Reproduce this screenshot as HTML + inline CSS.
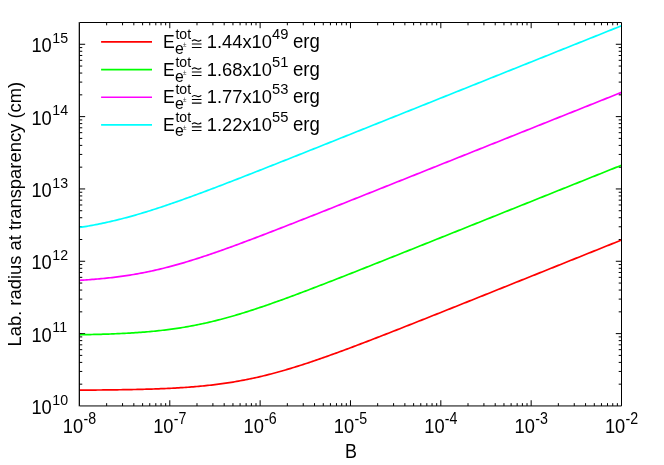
<!DOCTYPE html>
<html><head><meta charset="utf-8"><title>plot</title>
<style>
html,body{margin:0;padding:0;background:#fff;}
svg{display:block;will-change:transform;}
text{font-family:"Liberation Sans", sans-serif;fill:#000;}
</style></head><body>
<svg width="664" height="465" viewBox="0 0 664 465">
<rect width="664" height="465" fill="#fff"/>
<path d="M106.65,405.95 v-2.80 M106.65,22.50 v2.80 M122.55,405.95 v-2.80 M122.55,22.50 v2.80 M133.84,405.95 v-2.80 M133.84,22.50 v2.80 M142.60,405.95 v-2.80 M142.60,22.50 v2.80 M149.75,405.95 v-2.80 M149.75,22.50 v2.80 M155.80,405.95 v-2.80 M155.80,22.50 v2.80 M161.04,405.95 v-2.80 M161.04,22.50 v2.80 M165.66,405.95 v-2.80 M165.66,22.50 v2.80 M169.79,405.95 v-5.70 M169.79,22.50 v5.70 M196.99,405.95 v-2.80 M196.99,22.50 v2.80 M212.90,405.95 v-2.80 M212.90,22.50 v2.80 M224.18,405.95 v-2.80 M224.18,22.50 v2.80 M232.94,405.95 v-2.80 M232.94,22.50 v2.80 M240.09,405.95 v-2.80 M240.09,22.50 v2.80 M246.14,405.95 v-2.80 M246.14,22.50 v2.80 M251.38,405.95 v-2.80 M251.38,22.50 v2.80 M256.00,405.95 v-2.80 M256.00,22.50 v2.80 M260.13,405.95 v-5.70 M260.13,22.50 v5.70 M287.33,405.95 v-2.80 M287.33,22.50 v2.80 M303.24,405.95 v-2.80 M303.24,22.50 v2.80 M314.52,405.95 v-2.80 M314.52,22.50 v2.80 M323.28,405.95 v-2.80 M323.28,22.50 v2.80 M330.43,405.95 v-2.80 M330.43,22.50 v2.80 M336.48,405.95 v-2.80 M336.48,22.50 v2.80 M341.72,405.95 v-2.80 M341.72,22.50 v2.80 M346.34,405.95 v-2.80 M346.34,22.50 v2.80 M350.47,405.95 v-5.70 M350.47,22.50 v5.70 M377.67,405.95 v-2.80 M377.67,22.50 v2.80 M393.58,405.95 v-2.80 M393.58,22.50 v2.80 M404.87,405.95 v-2.80 M404.87,22.50 v2.80 M413.62,405.95 v-2.80 M413.62,22.50 v2.80 M420.77,405.95 v-2.80 M420.77,22.50 v2.80 M426.82,405.95 v-2.80 M426.82,22.50 v2.80 M432.06,405.95 v-2.80 M432.06,22.50 v2.80 M436.68,405.95 v-2.80 M436.68,22.50 v2.80 M440.82,405.95 v-5.70 M440.82,22.50 v5.70 M468.01,405.95 v-2.80 M468.01,22.50 v2.80 M483.92,405.95 v-2.80 M483.92,22.50 v2.80 M495.21,405.95 v-2.80 M495.21,22.50 v2.80 M503.96,405.95 v-2.80 M503.96,22.50 v2.80 M511.12,405.95 v-2.80 M511.12,22.50 v2.80 M517.16,405.95 v-2.80 M517.16,22.50 v2.80 M522.40,405.95 v-2.80 M522.40,22.50 v2.80 M527.02,405.95 v-2.80 M527.02,22.50 v2.80 M531.16,405.95 v-5.70 M531.16,22.50 v5.70 M558.35,405.95 v-2.80 M558.35,22.50 v2.80 M574.26,405.95 v-2.80 M574.26,22.50 v2.80 M585.55,405.95 v-2.80 M585.55,22.50 v2.80 M594.30,405.95 v-2.80 M594.30,22.50 v2.80 M601.46,405.95 v-2.80 M601.46,22.50 v2.80 M607.51,405.95 v-2.80 M607.51,22.50 v2.80 M612.74,405.95 v-2.80 M612.74,22.50 v2.80 M617.37,405.95 v-2.80 M617.37,22.50 v2.80 M79.45,384.17 h2.80 M621.50,384.17 h-2.80 M79.45,371.44 h2.80 M621.50,371.44 h-2.80 M79.45,362.40 h2.80 M621.50,362.40 h-2.80 M79.45,355.39 h2.80 M621.50,355.39 h-2.80 M79.45,349.66 h2.80 M621.50,349.66 h-2.80 M79.45,344.82 h2.80 M621.50,344.82 h-2.80 M79.45,340.62 h2.80 M621.50,340.62 h-2.80 M79.45,336.92 h2.80 M621.50,336.92 h-2.80 M79.45,333.62 h5.70 M621.50,333.62 h-5.70 M79.45,311.84 h2.80 M621.50,311.84 h-2.80 M79.45,299.10 h2.80 M621.50,299.10 h-2.80 M79.45,290.06 h2.80 M621.50,290.06 h-2.80 M79.45,283.06 h2.80 M621.50,283.06 h-2.80 M79.45,277.33 h2.80 M621.50,277.33 h-2.80 M79.45,272.48 h2.80 M621.50,272.48 h-2.80 M79.45,268.29 h2.80 M621.50,268.29 h-2.80 M79.45,264.59 h2.80 M621.50,264.59 h-2.80 M79.45,261.28 h5.70 M621.50,261.28 h-5.70 M79.45,239.50 h2.80 M621.50,239.50 h-2.80 M79.45,226.77 h2.80 M621.50,226.77 h-2.80 M79.45,217.73 h2.80 M621.50,217.73 h-2.80 M79.45,210.72 h2.80 M621.50,210.72 h-2.80 M79.45,204.99 h2.80 M621.50,204.99 h-2.80 M79.45,200.15 h2.80 M621.50,200.15 h-2.80 M79.45,195.95 h2.80 M621.50,195.95 h-2.80 M79.45,192.25 h2.80 M621.50,192.25 h-2.80 M79.45,188.95 h5.70 M621.50,188.95 h-5.70 M79.45,167.17 h2.80 M621.50,167.17 h-2.80 M79.45,154.43 h2.80 M621.50,154.43 h-2.80 M79.45,145.39 h2.80 M621.50,145.39 h-2.80 M79.45,138.39 h2.80 M621.50,138.39 h-2.80 M79.45,132.66 h2.80 M621.50,132.66 h-2.80 M79.45,127.81 h2.80 M621.50,127.81 h-2.80 M79.45,123.62 h2.80 M621.50,123.62 h-2.80 M79.45,119.92 h2.80 M621.50,119.92 h-2.80 M79.45,116.61 h5.70 M621.50,116.61 h-5.70 M79.45,94.83 h2.80 M621.50,94.83 h-2.80 M79.45,82.10 h2.80 M621.50,82.10 h-2.80 M79.45,73.06 h2.80 M621.50,73.06 h-2.80 M79.45,66.05 h2.80 M621.50,66.05 h-2.80 M79.45,60.32 h2.80 M621.50,60.32 h-2.80 M79.45,55.48 h2.80 M621.50,55.48 h-2.80 M79.45,51.28 h2.80 M621.50,51.28 h-2.80 M79.45,47.58 h2.80 M621.50,47.58 h-2.80 M79.45,44.28 h5.70 M621.50,44.28 h-5.70" stroke="#000" stroke-width="1" fill="none"/>
<clipPath id="c"><rect x="79.45" y="22.50" width="542.05" height="383.45"/></clipPath>
<path d="M79.45,390.14 L81.26,390.13 L83.06,390.12 L84.87,390.11 L86.68,390.10 L88.48,390.09 L90.29,390.07 L92.10,390.06 L93.90,390.05 L95.71,390.03 L97.52,390.02 L99.33,390.00 L101.13,389.98 L102.94,389.97 L104.75,389.95 L106.55,389.93 L108.36,389.91 L110.17,389.89 L111.97,389.87 L113.78,389.84 L115.59,389.82 L117.39,389.80 L119.20,389.77 L121.01,389.74 L122.81,389.71 L124.62,389.68 L126.43,389.65 L128.23,389.62 L130.04,389.59 L131.85,389.55 L133.65,389.52 L135.46,389.48 L137.27,389.44 L139.08,389.39 L140.88,389.35 L142.69,389.30 L144.50,389.26 L146.30,389.21 L148.11,389.15 L149.92,389.10 L151.72,389.04 L153.53,388.98 L155.34,388.92 L157.14,388.86 L158.95,388.79 L160.76,388.72 L162.56,388.64 L164.37,388.57 L166.18,388.49 L167.98,388.41 L169.79,388.32 L171.60,388.23 L173.41,388.14 L175.21,388.04 L177.02,387.94 L178.83,387.83 L180.63,387.72 L182.44,387.61 L184.25,387.49 L186.05,387.36 L187.86,387.24 L189.67,387.10 L191.47,386.96 L193.28,386.82 L195.09,386.67 L196.89,386.52 L198.70,386.36 L200.51,386.19 L202.31,386.02 L204.12,385.84 L205.93,385.66 L207.74,385.46 L209.54,385.27 L211.35,385.06 L213.16,384.85 L214.96,384.63 L216.77,384.41 L218.58,384.18 L220.38,383.94 L222.19,383.69 L224.00,383.43 L225.80,383.17 L227.61,382.90 L229.42,382.62 L231.22,382.34 L233.03,382.04 L234.84,381.74 L236.64,381.43 L238.45,381.11 L240.26,380.78 L242.06,380.45 L243.87,380.10 L245.68,379.75 L247.49,379.39 L249.29,379.02 L251.10,378.65 L252.91,378.26 L254.71,377.87 L256.52,377.46 L258.33,377.05 L260.13,376.63 L261.94,376.21 L263.75,375.77 L265.55,375.33 L267.36,374.88 L269.17,374.42 L270.97,373.95 L272.78,373.48 L274.59,373.00 L276.39,372.51 L278.20,372.01 L280.01,371.51 L281.82,371.00 L283.62,370.48 L285.43,369.96 L287.24,369.42 L289.04,368.89 L290.85,368.34 L292.66,367.79 L294.46,367.24 L296.27,366.68 L298.08,366.11 L299.88,365.53 L301.69,364.95 L303.50,364.37 L305.30,363.78 L307.11,363.19 L308.92,362.59 L310.72,361.98 L312.53,361.37 L314.34,360.76 L316.15,360.14 L317.95,359.52 L319.76,358.90 L321.57,358.27 L323.37,357.63 L325.18,357.00 L326.99,356.36 L328.79,355.71 L330.60,355.06 L332.41,354.41 L334.21,353.76 L336.02,353.10 L337.83,352.44 L339.63,351.78 L341.44,351.12 L343.25,350.45 L345.05,349.78 L346.86,349.11 L348.67,348.44 L350.47,347.76 L352.28,347.08 L354.09,346.40 L355.90,345.72 L357.70,345.03 L359.51,344.35 L361.32,343.66 L363.12,342.97 L364.93,342.28 L366.74,341.59 L368.54,340.89 L370.35,340.20 L372.16,339.50 L373.96,338.81 L375.77,338.11 L377.58,337.41 L379.38,336.71 L381.19,336.00 L383.00,335.30 L384.80,334.60 L386.61,333.89 L388.42,333.19 L390.23,332.48 L392.03,331.77 L393.84,331.06 L395.65,330.35 L397.45,329.64 L399.26,328.93 L401.07,328.22 L402.87,327.51 L404.68,326.80 L406.49,326.08 L408.29,325.37 L410.10,324.66 L411.91,323.94 L413.71,323.23 L415.52,322.51 L417.33,321.80 L419.13,321.08 L420.94,320.36 L422.75,319.65 L424.56,318.93 L426.36,318.21 L428.17,317.49 L429.98,316.77 L431.78,316.05 L433.59,315.33 L435.40,314.62 L437.20,313.90 L439.01,313.18 L440.82,312.46 L442.62,311.74 L444.43,311.01 L446.24,310.29 L448.04,309.57 L449.85,308.85 L451.66,308.13 L453.46,307.41 L455.27,306.69 L457.08,305.96 L458.88,305.24 L460.69,304.52 L462.50,303.80 L464.31,303.08 L466.11,302.35 L467.92,301.63 L469.73,300.91 L471.53,300.18 L473.34,299.46 L475.15,298.74 L476.95,298.01 L478.76,297.29 L480.57,296.57 L482.37,295.84 L484.18,295.12 L485.99,294.40 L487.79,293.67 L489.60,292.95 L491.41,292.22 L493.21,291.50 L495.02,290.78 L496.83,290.05 L498.64,289.33 L500.44,288.60 L502.25,287.88 L504.06,287.16 L505.86,286.43 L507.67,285.71 L509.48,284.98 L511.28,284.26 L513.09,283.53 L514.90,282.81 L516.70,282.08 L518.51,281.36 L520.32,280.63 L522.12,279.91 L523.93,279.19 L525.74,278.46 L527.54,277.74 L529.35,277.01 L531.16,276.29 L532.97,275.56 L534.77,274.84 L536.58,274.11 L538.39,273.39 L540.19,272.66 L542.00,271.94 L543.81,271.21 L545.61,270.49 L547.42,269.76 L549.23,269.04 L551.03,268.31 L552.84,267.59 L554.65,266.86 L556.45,266.14 L558.26,265.41 L560.07,264.69 L561.87,263.96 L563.68,263.24 L565.49,262.51 L567.29,261.78 L569.10,261.06 L570.91,260.33 L572.72,259.61 L574.52,258.88 L576.33,258.16 L578.14,257.43 L579.94,256.71 L581.75,255.98 L583.56,255.26 L585.36,254.53 L587.17,253.81 L588.98,253.08 L590.78,252.36 L592.59,251.63 L594.40,250.91 L596.20,250.18 L598.01,249.46 L599.82,248.73 L601.62,248.01 L603.43,247.28 L605.24,246.55 L607.05,245.83 L608.85,245.10 L610.66,244.38 L612.47,243.65 L614.27,242.93 L616.08,242.20 L617.89,241.48 L619.69,240.75 L621.50,240.03" stroke="#ff0000" stroke-width="1.70" fill="none" stroke-linejoin="round" clip-path="url(#c)"/>
<path d="M79.45,334.78 L81.26,334.75 L83.06,334.71 L84.87,334.68 L86.68,334.64 L88.48,334.60 L90.29,334.56 L92.10,334.52 L93.90,334.47 L95.71,334.43 L97.52,334.38 L99.33,334.33 L101.13,334.28 L102.94,334.22 L104.75,334.16 L106.55,334.10 L108.36,334.04 L110.17,333.98 L111.97,333.91 L113.78,333.84 L115.59,333.76 L117.39,333.68 L119.20,333.60 L121.01,333.52 L122.81,333.43 L124.62,333.34 L126.43,333.24 L128.23,333.14 L130.04,333.04 L131.85,332.93 L133.65,332.81 L135.46,332.70 L137.27,332.57 L139.08,332.45 L140.88,332.31 L142.69,332.18 L144.50,332.03 L146.30,331.88 L148.11,331.73 L149.92,331.57 L151.72,331.40 L153.53,331.23 L155.34,331.05 L157.14,330.87 L158.95,330.68 L160.76,330.48 L162.56,330.27 L164.37,330.06 L166.18,329.84 L167.98,329.61 L169.79,329.38 L171.60,329.14 L173.41,328.88 L175.21,328.63 L177.02,328.36 L178.83,328.09 L180.63,327.81 L182.44,327.51 L184.25,327.22 L186.05,326.91 L187.86,326.59 L189.67,326.27 L191.47,325.94 L193.28,325.60 L195.09,325.25 L196.89,324.89 L198.70,324.52 L200.51,324.14 L202.31,323.76 L204.12,323.37 L205.93,322.97 L207.74,322.56 L209.54,322.14 L211.35,321.71 L213.16,321.28 L214.96,320.83 L216.77,320.38 L218.58,319.92 L220.38,319.46 L222.19,318.98 L224.00,318.50 L225.80,318.01 L227.61,317.51 L229.42,317.00 L231.22,316.49 L233.03,315.97 L234.84,315.45 L236.64,314.91 L238.45,314.37 L240.26,313.83 L242.06,313.27 L243.87,312.71 L245.68,312.15 L247.49,311.58 L249.29,311.00 L251.10,310.42 L252.91,309.83 L254.71,309.24 L256.52,308.64 L258.33,308.04 L260.13,307.43 L261.94,306.82 L263.75,306.21 L265.55,305.59 L267.36,304.96 L269.17,304.33 L270.97,303.70 L272.78,303.06 L274.59,302.42 L276.39,301.78 L278.20,301.13 L280.01,300.48 L281.82,299.83 L283.62,299.18 L285.43,298.52 L287.24,297.86 L289.04,297.19 L290.85,296.52 L292.66,295.85 L294.46,295.18 L296.27,294.51 L298.08,293.83 L299.88,293.15 L301.69,292.47 L303.50,291.79 L305.30,291.11 L307.11,290.42 L308.92,289.73 L310.72,289.05 L312.53,288.36 L314.34,287.66 L316.15,286.97 L317.95,286.27 L319.76,285.58 L321.57,284.88 L323.37,284.18 L325.18,283.48 L326.99,282.78 L328.79,282.08 L330.60,281.38 L332.41,280.67 L334.21,279.97 L336.02,279.26 L337.83,278.56 L339.63,277.85 L341.44,277.14 L343.25,276.43 L345.05,275.72 L346.86,275.01 L348.67,274.30 L350.47,273.59 L352.28,272.88 L354.09,272.17 L355.90,271.45 L357.70,270.74 L359.51,270.02 L361.32,269.31 L363.12,268.60 L364.93,267.88 L366.74,267.16 L368.54,266.45 L370.35,265.73 L372.16,265.01 L373.96,264.30 L375.77,263.58 L377.58,262.86 L379.38,262.14 L381.19,261.43 L383.00,260.71 L384.80,259.99 L386.61,259.27 L388.42,258.55 L390.23,257.83 L392.03,257.11 L393.84,256.39 L395.65,255.67 L397.45,254.95 L399.26,254.23 L401.07,253.51 L402.87,252.79 L404.68,252.07 L406.49,251.35 L408.29,250.62 L410.10,249.90 L411.91,249.18 L413.71,248.46 L415.52,247.74 L417.33,247.02 L419.13,246.29 L420.94,245.57 L422.75,244.85 L424.56,244.13 L426.36,243.41 L428.17,242.68 L429.98,241.96 L431.78,241.24 L433.59,240.51 L435.40,239.79 L437.20,239.07 L439.01,238.35 L440.82,237.62 L442.62,236.90 L444.43,236.18 L446.24,235.45 L448.04,234.73 L449.85,234.01 L451.66,233.29 L453.46,232.56 L455.27,231.84 L457.08,231.12 L458.88,230.39 L460.69,229.67 L462.50,228.95 L464.31,228.22 L466.11,227.50 L467.92,226.78 L469.73,226.05 L471.53,225.33 L473.34,224.60 L475.15,223.88 L476.95,223.16 L478.76,222.43 L480.57,221.71 L482.37,220.99 L484.18,220.26 L485.99,219.54 L487.79,218.82 L489.60,218.09 L491.41,217.37 L493.21,216.64 L495.02,215.92 L496.83,215.20 L498.64,214.47 L500.44,213.75 L502.25,213.02 L504.06,212.30 L505.86,211.58 L507.67,210.85 L509.48,210.13 L511.28,209.41 L513.09,208.68 L514.90,207.96 L516.70,207.23 L518.51,206.51 L520.32,205.79 L522.12,205.06 L523.93,204.34 L525.74,203.61 L527.54,202.89 L529.35,202.17 L531.16,201.44 L532.97,200.72 L534.77,199.99 L536.58,199.27 L538.39,198.55 L540.19,197.82 L542.00,197.10 L543.81,196.37 L545.61,195.65 L547.42,194.93 L549.23,194.20 L551.03,193.48 L552.84,192.75 L554.65,192.03 L556.45,191.31 L558.26,190.58 L560.07,189.86 L561.87,189.13 L563.68,188.41 L565.49,187.69 L567.29,186.96 L569.10,186.24 L570.91,185.51 L572.72,184.79 L574.52,184.07 L576.33,183.34 L578.14,182.62 L579.94,181.89 L581.75,181.17 L583.56,180.45 L585.36,179.72 L587.17,179.00 L588.98,178.27 L590.78,177.55 L592.59,176.83 L594.40,176.10 L596.20,175.38 L598.01,174.65 L599.82,173.93 L601.62,173.21 L603.43,172.48 L605.24,171.76 L607.05,171.03 L608.85,170.31 L610.66,169.58 L612.47,168.86 L614.27,168.14 L616.08,167.41 L617.89,166.69 L619.69,165.96 L621.50,165.24" stroke="#00ff00" stroke-width="1.70" fill="none" stroke-linejoin="round" clip-path="url(#c)"/>
<path d="M79.45,280.32 L81.26,280.21 L83.06,280.10 L84.87,279.98 L86.68,279.86 L88.48,279.73 L90.29,279.60 L92.10,279.46 L93.90,279.32 L95.71,279.17 L97.52,279.02 L99.33,278.86 L101.13,278.69 L102.94,278.52 L104.75,278.34 L106.55,278.15 L108.36,277.96 L110.17,277.76 L111.97,277.55 L113.78,277.34 L115.59,277.12 L117.39,276.89 L119.20,276.65 L121.01,276.41 L122.81,276.16 L124.62,275.90 L126.43,275.63 L128.23,275.35 L130.04,275.07 L131.85,274.77 L133.65,274.47 L135.46,274.16 L137.27,273.84 L139.08,273.52 L140.88,273.18 L142.69,272.83 L144.50,272.48 L146.30,272.12 L148.11,271.74 L149.92,271.36 L151.72,270.98 L153.53,270.58 L155.34,270.17 L157.14,269.76 L158.95,269.33 L160.76,268.90 L162.56,268.46 L164.37,268.01 L166.18,267.55 L167.98,267.09 L169.79,266.62 L171.60,266.14 L173.41,265.65 L175.21,265.15 L177.02,264.65 L178.83,264.14 L180.63,263.62 L182.44,263.09 L184.25,262.56 L186.05,262.02 L187.86,261.48 L189.67,260.92 L191.47,260.37 L193.28,259.80 L195.09,259.23 L196.89,258.66 L198.70,258.08 L200.51,257.49 L202.31,256.90 L204.12,256.30 L205.93,255.70 L207.74,255.09 L209.54,254.48 L211.35,253.86 L213.16,253.24 L214.96,252.62 L216.77,251.99 L218.58,251.36 L220.38,250.72 L222.19,250.08 L224.00,249.44 L225.80,248.79 L227.61,248.14 L229.42,247.49 L231.22,246.84 L233.03,246.18 L234.84,245.52 L236.64,244.85 L238.45,244.19 L240.26,243.52 L242.06,242.85 L243.87,242.17 L245.68,241.50 L247.49,240.82 L249.29,240.14 L251.10,239.46 L252.91,238.78 L254.71,238.09 L256.52,237.40 L258.33,236.72 L260.13,236.03 L261.94,235.34 L263.75,234.64 L265.55,233.95 L267.36,233.25 L269.17,232.56 L270.97,231.86 L272.78,231.16 L274.59,230.46 L276.39,229.76 L278.20,229.06 L280.01,228.36 L281.82,227.65 L283.62,226.95 L285.43,226.24 L287.24,225.54 L289.04,224.83 L290.85,224.12 L292.66,223.42 L294.46,222.71 L296.27,222.00 L298.08,221.29 L299.88,220.58 L301.69,219.87 L303.50,219.16 L305.30,218.45 L307.11,217.73 L308.92,217.02 L310.72,216.31 L312.53,215.59 L314.34,214.88 L316.15,214.17 L317.95,213.45 L319.76,212.74 L321.57,212.02 L323.37,211.31 L325.18,210.59 L326.99,209.87 L328.79,209.16 L330.60,208.44 L332.41,207.73 L334.21,207.01 L336.02,206.29 L337.83,205.57 L339.63,204.86 L341.44,204.14 L343.25,203.42 L345.05,202.70 L346.86,201.98 L348.67,201.27 L350.47,200.55 L352.28,199.83 L354.09,199.11 L355.90,198.39 L357.70,197.67 L359.51,196.95 L361.32,196.23 L363.12,195.51 L364.93,194.79 L366.74,194.07 L368.54,193.35 L370.35,192.63 L372.16,191.92 L373.96,191.20 L375.77,190.48 L377.58,189.76 L379.38,189.04 L381.19,188.31 L383.00,187.59 L384.80,186.87 L386.61,186.15 L388.42,185.43 L390.23,184.71 L392.03,183.99 L393.84,183.27 L395.65,182.55 L397.45,181.83 L399.26,181.11 L401.07,180.39 L402.87,179.67 L404.68,178.95 L406.49,178.23 L408.29,177.51 L410.10,176.79 L411.91,176.06 L413.71,175.34 L415.52,174.62 L417.33,173.90 L419.13,173.18 L420.94,172.46 L422.75,171.74 L424.56,171.02 L426.36,170.30 L428.17,169.57 L429.98,168.85 L431.78,168.13 L433.59,167.41 L435.40,166.69 L437.20,165.97 L439.01,165.25 L440.82,164.53 L442.62,163.81 L444.43,163.08 L446.24,162.36 L448.04,161.64 L449.85,160.92 L451.66,160.20 L453.46,159.48 L455.27,158.76 L457.08,158.04 L458.88,157.31 L460.69,156.59 L462.50,155.87 L464.31,155.15 L466.11,154.43 L467.92,153.71 L469.73,152.99 L471.53,152.26 L473.34,151.54 L475.15,150.82 L476.95,150.10 L478.76,149.38 L480.57,148.66 L482.37,147.94 L484.18,147.22 L485.99,146.49 L487.79,145.77 L489.60,145.05 L491.41,144.33 L493.21,143.61 L495.02,142.89 L496.83,142.17 L498.64,141.44 L500.44,140.72 L502.25,140.00 L504.06,139.28 L505.86,138.56 L507.67,137.84 L509.48,137.12 L511.28,136.39 L513.09,135.67 L514.90,134.95 L516.70,134.23 L518.51,133.51 L520.32,132.79 L522.12,132.07 L523.93,131.34 L525.74,130.62 L527.54,129.90 L529.35,129.18 L531.16,128.46 L532.97,127.74 L534.77,127.02 L536.58,126.29 L538.39,125.57 L540.19,124.85 L542.00,124.13 L543.81,123.41 L545.61,122.69 L547.42,121.96 L549.23,121.24 L551.03,120.52 L552.84,119.80 L554.65,119.08 L556.45,118.36 L558.26,117.64 L560.07,116.91 L561.87,116.19 L563.68,115.47 L565.49,114.75 L567.29,114.03 L569.10,113.31 L570.91,112.59 L572.72,111.86 L574.52,111.14 L576.33,110.42 L578.14,109.70 L579.94,108.98 L581.75,108.26 L583.56,107.54 L585.36,106.81 L587.17,106.09 L588.98,105.37 L590.78,104.65 L592.59,103.93 L594.40,103.21 L596.20,102.49 L598.01,101.76 L599.82,101.04 L601.62,100.32 L603.43,99.60 L605.24,98.88 L607.05,98.16 L608.85,97.44 L610.66,96.71 L612.47,95.99 L614.27,95.27 L616.08,94.55 L617.89,93.83 L619.69,93.11 L621.50,92.38" stroke="#ff00ff" stroke-width="1.70" fill="none" stroke-linejoin="round" clip-path="url(#c)"/>
<path d="M79.45,227.46 L81.26,227.18 L83.06,226.89 L84.87,226.60 L86.68,226.29 L88.48,225.98 L90.29,225.66 L92.10,225.34 L93.90,225.00 L95.71,224.66 L97.52,224.30 L99.33,223.94 L101.13,223.58 L102.94,223.20 L104.75,222.81 L106.55,222.42 L108.36,222.02 L110.17,221.61 L111.97,221.19 L113.78,220.77 L115.59,220.33 L117.39,219.89 L119.20,219.44 L121.01,218.98 L122.81,218.52 L124.62,218.05 L126.43,217.57 L128.23,217.08 L130.04,216.59 L131.85,216.08 L133.65,215.58 L135.46,215.06 L137.27,214.54 L139.08,214.01 L140.88,213.47 L142.69,212.93 L144.50,212.39 L146.30,211.83 L148.11,211.27 L149.92,210.71 L151.72,210.14 L153.53,209.56 L155.34,208.98 L157.14,208.39 L158.95,207.80 L160.76,207.20 L162.56,206.60 L164.37,206.00 L166.18,205.39 L167.98,204.77 L169.79,204.15 L171.60,203.53 L173.41,202.90 L175.21,202.27 L177.02,201.64 L178.83,201.00 L180.63,200.36 L182.44,199.72 L184.25,199.07 L186.05,198.42 L187.86,197.77 L189.67,197.11 L191.47,196.45 L193.28,195.79 L195.09,195.12 L196.89,194.46 L198.70,193.79 L200.51,193.12 L202.31,192.44 L204.12,191.77 L205.93,191.09 L207.74,190.41 L209.54,189.73 L211.35,189.05 L213.16,188.36 L214.96,187.68 L216.77,186.99 L218.58,186.30 L220.38,185.61 L222.19,184.92 L224.00,184.22 L225.80,183.53 L227.61,182.83 L229.42,182.14 L231.22,181.44 L233.03,180.74 L234.84,180.04 L236.64,179.34 L238.45,178.63 L240.26,177.93 L242.06,177.23 L243.87,176.52 L245.68,175.81 L247.49,175.11 L249.29,174.40 L251.10,173.69 L252.91,172.98 L254.71,172.28 L256.52,171.57 L258.33,170.85 L260.13,170.14 L261.94,169.43 L263.75,168.72 L265.55,168.01 L267.36,167.29 L269.17,166.58 L270.97,165.87 L272.78,165.15 L274.59,164.44 L276.39,163.72 L278.20,163.01 L280.01,162.29 L281.82,161.58 L283.62,160.86 L285.43,160.14 L287.24,159.43 L289.04,158.71 L290.85,157.99 L292.66,157.27 L294.46,156.55 L296.27,155.84 L298.08,155.12 L299.88,154.40 L301.69,153.68 L303.50,152.96 L305.30,152.24 L307.11,151.52 L308.92,150.80 L310.72,150.08 L312.53,149.36 L314.34,148.64 L316.15,147.92 L317.95,147.20 L319.76,146.48 L321.57,145.76 L323.37,145.04 L325.18,144.32 L326.99,143.60 L328.79,142.88 L330.60,142.16 L332.41,141.44 L334.21,140.71 L336.02,139.99 L337.83,139.27 L339.63,138.55 L341.44,137.83 L343.25,137.11 L345.05,136.38 L346.86,135.66 L348.67,134.94 L350.47,134.22 L352.28,133.50 L354.09,132.77 L355.90,132.05 L357.70,131.33 L359.51,130.61 L361.32,129.89 L363.12,129.16 L364.93,128.44 L366.74,127.72 L368.54,127.00 L370.35,126.27 L372.16,125.55 L373.96,124.83 L375.77,124.11 L377.58,123.38 L379.38,122.66 L381.19,121.94 L383.00,121.22 L384.80,120.49 L386.61,119.77 L388.42,119.05 L390.23,118.33 L392.03,117.60 L393.84,116.88 L395.65,116.16 L397.45,115.43 L399.26,114.71 L401.07,113.99 L402.87,113.27 L404.68,112.54 L406.49,111.82 L408.29,111.10 L410.10,110.37 L411.91,109.65 L413.71,108.93 L415.52,108.20 L417.33,107.48 L419.13,106.76 L420.94,106.04 L422.75,105.31 L424.56,104.59 L426.36,103.87 L428.17,103.14 L429.98,102.42 L431.78,101.70 L433.59,100.97 L435.40,100.25 L437.20,99.53 L439.01,98.81 L440.82,98.08 L442.62,97.36 L444.43,96.64 L446.24,95.91 L448.04,95.19 L449.85,94.47 L451.66,93.74 L453.46,93.02 L455.27,92.30 L457.08,91.57 L458.88,90.85 L460.69,90.13 L462.50,89.40 L464.31,88.68 L466.11,87.96 L467.92,87.24 L469.73,86.51 L471.53,85.79 L473.34,85.07 L475.15,84.34 L476.95,83.62 L478.76,82.90 L480.57,82.17 L482.37,81.45 L484.18,80.73 L485.99,80.00 L487.79,79.28 L489.60,78.56 L491.41,77.83 L493.21,77.11 L495.02,76.39 L496.83,75.66 L498.64,74.94 L500.44,74.22 L502.25,73.50 L504.06,72.77 L505.86,72.05 L507.67,71.33 L509.48,70.60 L511.28,69.88 L513.09,69.16 L514.90,68.43 L516.70,67.71 L518.51,66.99 L520.32,66.26 L522.12,65.54 L523.93,64.82 L525.74,64.09 L527.54,63.37 L529.35,62.65 L531.16,61.92 L532.97,61.20 L534.77,60.48 L536.58,59.75 L538.39,59.03 L540.19,58.31 L542.00,57.59 L543.81,56.86 L545.61,56.14 L547.42,55.42 L549.23,54.69 L551.03,53.97 L552.84,53.25 L554.65,52.52 L556.45,51.80 L558.26,51.08 L560.07,50.35 L561.87,49.63 L563.68,48.91 L565.49,48.18 L567.29,47.46 L569.10,46.74 L570.91,46.01 L572.72,45.29 L574.52,44.57 L576.33,43.84 L578.14,43.12 L579.94,42.40 L581.75,41.67 L583.56,40.95 L585.36,40.23 L587.17,39.51 L588.98,38.78 L590.78,38.06 L592.59,37.34 L594.40,36.61 L596.20,35.89 L598.01,35.17 L599.82,34.44 L601.62,33.72 L603.43,33.00 L605.24,32.27 L607.05,31.55 L608.85,30.83 L610.66,30.10 L612.47,29.38 L614.27,28.66 L616.08,27.93 L617.89,27.21 L619.69,26.49 L621.50,25.76" stroke="#00ffff" stroke-width="1.70" fill="none" stroke-linejoin="round" clip-path="url(#c)"/>
<path d="M79.45,22.50 H621.50 V405.95 H79.45 Z" stroke="#000" stroke-width="1" fill="none"/>
<path d="M78.82,22.00 V406.45" stroke="#000" stroke-width="0.36" fill="none"/>
<text transform="translate(31.40,413.95) scale(1,1.080)" font-size="18.30" text-anchor="start">10</text>
<text transform="translate(52.30,404.75) scale(1,1.080)" font-size="14.20" text-anchor="start">10</text>
<text transform="translate(31.40,341.62) scale(1,1.080)" font-size="18.30" text-anchor="start">10</text>
<text transform="translate(52.30,332.42) scale(1,1.080)" font-size="14.20" text-anchor="start">11</text>
<text transform="translate(31.40,269.28) scale(1,1.080)" font-size="18.30" text-anchor="start">10</text>
<text transform="translate(52.30,260.08) scale(1,1.080)" font-size="14.20" text-anchor="start">12</text>
<text transform="translate(31.40,196.95) scale(1,1.080)" font-size="18.30" text-anchor="start">10</text>
<text transform="translate(52.30,187.75) scale(1,1.080)" font-size="14.20" text-anchor="start">13</text>
<text transform="translate(31.40,124.61) scale(1,1.080)" font-size="18.30" text-anchor="start">10</text>
<text transform="translate(52.30,115.41) scale(1,1.080)" font-size="14.20" text-anchor="start">14</text>
<text transform="translate(31.40,52.28) scale(1,1.080)" font-size="18.30" text-anchor="start">10</text>
<text transform="translate(52.30,43.08) scale(1,1.080)" font-size="14.20" text-anchor="start">15</text>
<text transform="translate(62.85,433.00) scale(1,1.080)" font-size="18.30" text-anchor="start">10</text>
<text transform="translate(83.45,424.30) scale(1,1.130)" font-size="14.20" text-anchor="start">-8</text>
<text transform="translate(153.19,433.00) scale(1,1.080)" font-size="18.30" text-anchor="start">10</text>
<text transform="translate(173.79,424.30) scale(1,1.130)" font-size="14.20" text-anchor="start">-7</text>
<text transform="translate(243.53,433.00) scale(1,1.080)" font-size="18.30" text-anchor="start">10</text>
<text transform="translate(264.13,424.30) scale(1,1.130)" font-size="14.20" text-anchor="start">-6</text>
<text transform="translate(333.87,433.00) scale(1,1.080)" font-size="18.30" text-anchor="start">10</text>
<text transform="translate(354.47,424.30) scale(1,1.130)" font-size="14.20" text-anchor="start">-5</text>
<text transform="translate(424.22,433.00) scale(1,1.080)" font-size="18.30" text-anchor="start">10</text>
<text transform="translate(444.82,424.30) scale(1,1.130)" font-size="14.20" text-anchor="start">-4</text>
<text transform="translate(514.56,433.00) scale(1,1.080)" font-size="18.30" text-anchor="start">10</text>
<text transform="translate(535.16,424.30) scale(1,1.130)" font-size="14.20" text-anchor="start">-3</text>
<text transform="translate(604.90,433.00) scale(1,1.080)" font-size="18.30" text-anchor="start">10</text>
<text transform="translate(625.50,424.30) scale(1,1.130)" font-size="14.20" text-anchor="start">-2</text>
<text transform="translate(351.00,458.00) scale(1,1.080)" font-size="17.90" text-anchor="middle">B</text>
<text transform="translate(21.00,214.20) rotate(-90) scale(1,1.000)" font-size="18.40" text-anchor="middle" letter-spacing="0.000">Lab. radius at transparency (cm)</text>
<path d="M101.1,41.97 H152" stroke="#ff0000" stroke-width="1.70" fill="none"/>
<text transform="translate(162.90,47.60) scale(1,1.050)" font-size="17.60" text-anchor="start">E</text>
<text transform="translate(175.40,38.90) scale(1,1.050)" font-size="14.10" text-anchor="start">tot</text>
<text transform="translate(175.10,53.50) scale(1,1.050)" font-size="15.80" text-anchor="start">e</text>
<text transform="translate(183.10,46.80) scale(1,1.050)" font-size="6.30" text-anchor="start" fill-opacity="0.8">±</text>
<path d="M191.90,43.96 H201.50 M191.90,47.54 H201.50" stroke="#000" stroke-width="1.1" fill="none"/>
<path d="M192.00,41.20 c1.2,-1.6 2.6,-1.7 4.5,-0.7 c1.9,1.0 3.3,0.9 4.8,-0.7" stroke="#000" stroke-width="1.1" fill="none"/>
<text transform="translate(206.80,47.60) scale(1,1.050)" font-size="18.30" text-anchor="start">1.44x10</text>
<text transform="translate(272.00,38.90) scale(1,1.050)" font-size="14.70" text-anchor="start">49</text>
<text transform="translate(293.00,47.60) scale(1,1.050)" font-size="18.60" text-anchor="start">erg</text>
<path d="M101.1,69.61 H152" stroke="#00ff00" stroke-width="1.70" fill="none"/>
<text transform="translate(162.90,75.60) scale(1,1.050)" font-size="17.60" text-anchor="start">E</text>
<text transform="translate(175.40,66.90) scale(1,1.050)" font-size="14.10" text-anchor="start">tot</text>
<text transform="translate(175.10,81.50) scale(1,1.050)" font-size="15.80" text-anchor="start">e</text>
<text transform="translate(183.10,74.80) scale(1,1.050)" font-size="6.30" text-anchor="start" fill-opacity="0.8">±</text>
<path d="M191.90,71.96 H201.50 M191.90,75.54 H201.50" stroke="#000" stroke-width="1.1" fill="none"/>
<path d="M192.00,69.20 c1.2,-1.6 2.6,-1.7 4.5,-0.7 c1.9,1.0 3.3,0.9 4.8,-0.7" stroke="#000" stroke-width="1.1" fill="none"/>
<text transform="translate(206.80,75.60) scale(1,1.050)" font-size="18.30" text-anchor="start">1.68x10</text>
<text transform="translate(272.00,66.90) scale(1,1.050)" font-size="14.70" text-anchor="start">51</text>
<text transform="translate(293.00,75.60) scale(1,1.050)" font-size="18.60" text-anchor="start">erg</text>
<path d="M101.1,97.25 H152" stroke="#ff00ff" stroke-width="1.70" fill="none"/>
<text transform="translate(162.90,103.15) scale(1,1.050)" font-size="17.60" text-anchor="start">E</text>
<text transform="translate(175.40,94.45) scale(1,1.050)" font-size="14.10" text-anchor="start">tot</text>
<text transform="translate(175.10,109.05) scale(1,1.050)" font-size="15.80" text-anchor="start">e</text>
<text transform="translate(183.10,102.35) scale(1,1.050)" font-size="6.30" text-anchor="start" fill-opacity="0.8">±</text>
<path d="M191.90,99.51 H201.50 M191.90,103.09 H201.50" stroke="#000" stroke-width="1.1" fill="none"/>
<path d="M192.00,96.75 c1.2,-1.6 2.6,-1.7 4.5,-0.7 c1.9,1.0 3.3,0.9 4.8,-0.7" stroke="#000" stroke-width="1.1" fill="none"/>
<text transform="translate(206.80,103.15) scale(1,1.050)" font-size="18.30" text-anchor="start">1.77x10</text>
<text transform="translate(272.00,94.45) scale(1,1.050)" font-size="14.70" text-anchor="start">53</text>
<text transform="translate(293.00,103.15) scale(1,1.050)" font-size="18.60" text-anchor="start">erg</text>
<path d="M101.1,124.89 H152" stroke="#00ffff" stroke-width="1.70" fill="none"/>
<text transform="translate(162.90,130.55) scale(1,1.050)" font-size="17.60" text-anchor="start">E</text>
<text transform="translate(175.40,121.85) scale(1,1.050)" font-size="14.10" text-anchor="start">tot</text>
<text transform="translate(175.10,136.45) scale(1,1.050)" font-size="15.80" text-anchor="start">e</text>
<text transform="translate(183.10,129.75) scale(1,1.050)" font-size="6.30" text-anchor="start" fill-opacity="0.8">±</text>
<path d="M191.90,126.91 H201.50 M191.90,130.49 H201.50" stroke="#000" stroke-width="1.1" fill="none"/>
<path d="M192.00,124.15 c1.2,-1.6 2.6,-1.7 4.5,-0.7 c1.9,1.0 3.3,0.9 4.8,-0.7" stroke="#000" stroke-width="1.1" fill="none"/>
<text transform="translate(206.80,130.55) scale(1,1.050)" font-size="18.30" text-anchor="start">1.22x10</text>
<text transform="translate(272.00,121.85) scale(1,1.050)" font-size="14.70" text-anchor="start">55</text>
<text transform="translate(293.00,130.55) scale(1,1.050)" font-size="18.60" text-anchor="start">erg</text>
</svg></body></html>
